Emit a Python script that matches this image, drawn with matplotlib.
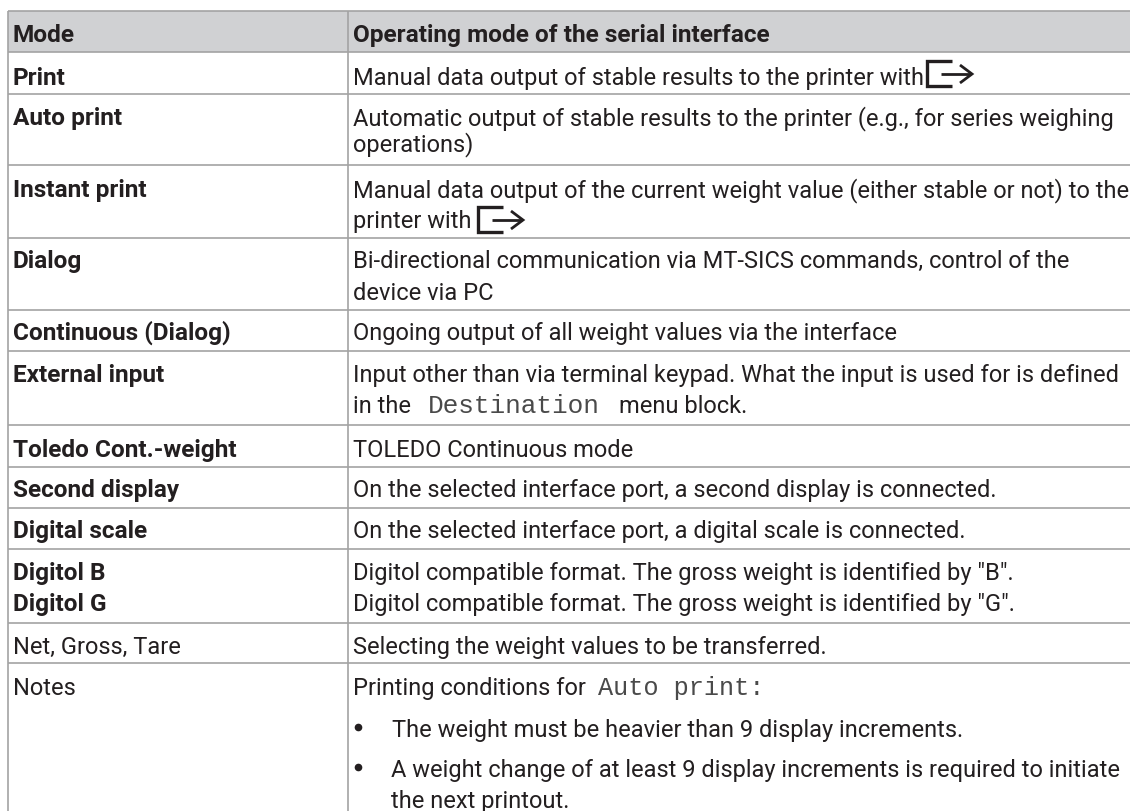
import matplotlib
matplotlib.use("Agg")
import matplotlib.pyplot as plt

W, H = 1130, 812
FONT = "Roboto"
MONO = "Liberation Mono"
INK = "#231f20"
RULE = "#a3a3a3"
HEAD = "#d0d1d3"

modes = ["Mode", "Print", "Auto print", "Instant print", "Dialog", "Continuous (Dialog)",
         "External input", "Toledo Cont.-weight", "Second display", "Digital scale",
         "Digitol B", "Digitol G", "Net, Gross, Tare", "Notes"]
mode_bold = [True] * 12 + [False, False]
mode_y = [42, 85, 125, 197, 268, 340, 382, 457, 497, 538, 580, 611, 654, 695]

desc = ["Operating mode of the serial interface",
        "Manual data output of stable results to the printer with",
        "Automatic output of stable results to the printer (e.g., for series weighing",
        "operations)",
        "Manual data output of the current weight value (either stable or not) to the",
        "printer with",
        "Bi-directional communication via MT-SICS commands, control of the",
        "device via PC",
        "Ongoing output of all weight values via the interface",
        "Input other than via terminal keypad. What the input is used for is defined",
        "in the",
        "TOLEDO Continuous mode",
        "On the selected interface port, a second display is connected.",
        "On the selected interface port, a digital scale is connected.",
        "Digitol compatible format. The gross weight is identified by \"B\".",
        "Digitol compatible format. The gross weight is identified by \"G\".",
        "Selecting the weight values to be transferred.",
        "Printing conditions for"]
desc_y = [42, 85, 125, 151, 197, 228, 268, 300, 340, 382, 413, 457, 497, 538, 580, 611, 654, 695]

rows = [12, 53, 95, 166, 239, 311, 352, 426, 468, 509, 550, 624, 664]

fig = plt.figure(figsize=(W / 100, H / 100), dpi=100, facecolor="white")
ax = fig.add_axes([0, 0, 1, 1])
ax.set_xlim(0, W)
ax.set_ylim(H, 0)
ax.axis("off")

ax.fill_between([8, W], rows[0], rows[1], color=HEAD, lw=0, zorder=0)
for y in rows:
    ax.plot([8, W], [y, y], color=RULE, lw=1.2, zorder=1, solid_capstyle="butt")
for x in (8, 348):
    ax.plot([x, x], [rows[0], H], color=RULE, lw=1.2, zorder=1, solid_capstyle="butt")

FS = 17.05
FSB = 17.6
for s, y, b in zip(modes, mode_y, mode_bold):
    ax.text(13, y, s, family=FONT, fontsize=FSB if b else FS, color=INK, va="baseline",
            fontweight="bold" if b else "normal")
for i, (s, y) in enumerate(zip(desc, desc_y)):
    ax.text(353, y, s, family=FONT, fontsize=FSB if i == 0 else FS, color=INK, va="baseline",
            fontweight="bold" if i == 0 else "normal")

# mixed-font fragments
ax.text(428, 413, "Destination", family=MONO, fontsize=18.8, color="#4a4a4a", va="baseline")
ax.text(747, 413, "menu block.", family=FONT, fontsize=FS, color=INK, va="baseline", ha="right")
ax.text(598, 695, "Auto print:", family=MONO, fontsize=18.2, color="#4a4a4a", va="baseline")

# bullets
for x, y, s in [(392, 737, "The weight must be heavier than 9 display increments."),
                (391, 777, "A weight change of at least 9 display increments is required to initiate"),
                (391, 808, "the next printout.")]:
    ax.text(x, y, s, family=FONT, fontsize=FS, color=INK, va="baseline")
for y in (728, 768):
    ax.plot([358], [y], "o", ms=5.5, color=INK, mew=0)


def key_icon(x0, y0):
    ax.plot([x0 + 25, x0, x0, x0 + 25], [y0, y0, y0 + 25, y0 + 25], color=INK, lw=2.4,
            solid_joinstyle="miter", solid_capstyle="butt")
    ax.plot([x0 + 14, x0 + 44], [y0 + 13, y0 + 13], color=INK, lw=2.0, solid_capstyle="butt")
    ax.plot([x0 + 33, x0 + 45, x0 + 33], [y0 + 4, y0 + 13, y0 + 22], color=INK, lw=2.0,
            solid_joinstyle="miter", solid_capstyle="butt")


key_icon(927, 62)
key_icon(478, 208)

fig.savefig("out.png", dpi=100, facecolor="white")
